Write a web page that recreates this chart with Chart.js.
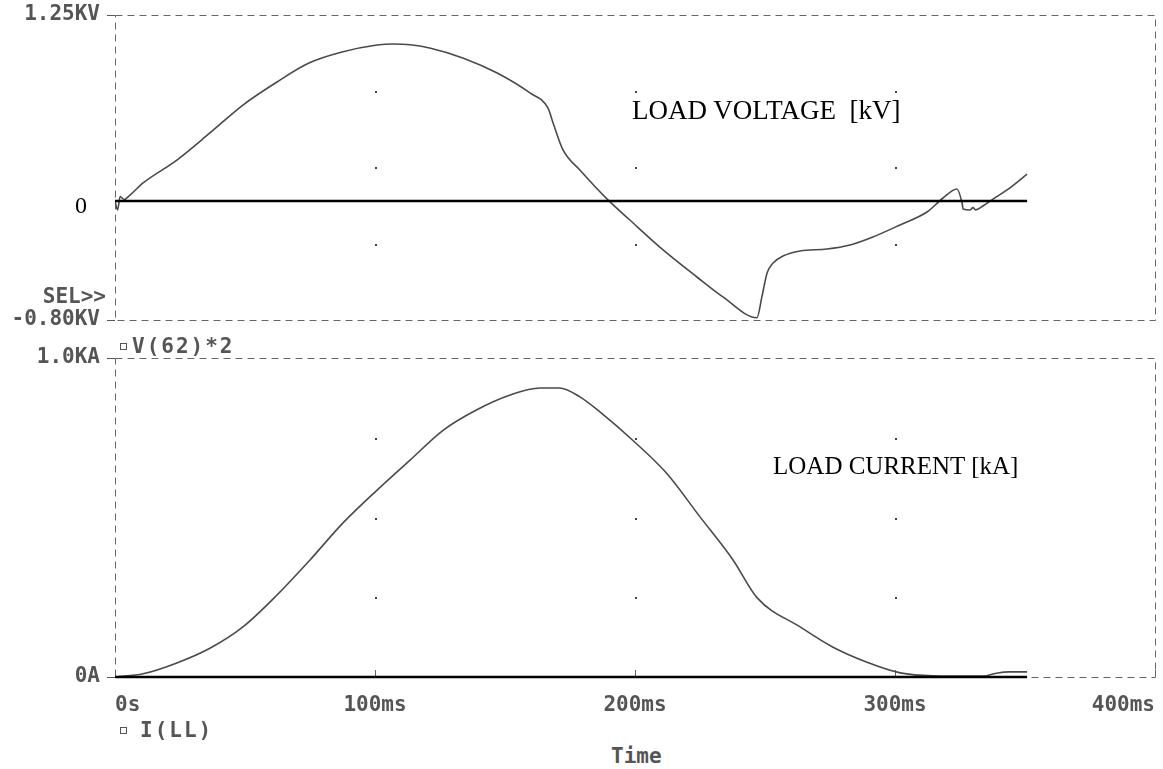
<!DOCTYPE html>
<html>
<head>
<meta charset="utf-8">
<script src="https://cdn.jsdelivr.net/npm/chart.js@4.4.1/dist/chart.umd.min.js"></script>
<style>
  body { margin: 0; background: #fff; width: 1163px; height: 769px; position: relative; overflow: hidden; }
  canvas { position: absolute; left: 0; }
  #topChart { top: 0; }
  #botChart { top: 340px; }
  .mono { position: absolute; font-family: "DejaVu Sans Mono", monospace; font-weight: bold; font-size: 21px; line-height: 21px; color: #555; white-space: pre; }
  .serif { position: absolute; font-family: "Liberation Serif", "Times New Roman", serif; color: #000; line-height: 1; white-space: pre; }
  .box { display: inline-block; width: 5px; height: 5px; border: 1.5px solid #555; vertical-align: 3px; }
</style>
</head>
<body>
<canvas id="topChart" width="1163" height="335"></canvas>
<canvas id="botChart" width="1163" height="380"></canvas>

<div class="serif" style="left:632px; top:97px; font-size:27px;">LOAD VOLTAGE  [kV]</div>
<div class="serif" style="left:773px; top:453px; font-size:25px;">LOAD CURRENT [kA]</div>
<div class="serif" style="left:75px; top:193px; font-size:24px;">0</div>
<div class="mono" style="left:0; width:106px; text-align:right; top:286px;">SEL&gt;&gt;</div>
<div class="mono" style="left:120px; top:336px;"><span class="box" style="margin-right:5px"></span><span style="letter-spacing:2px">V(62)*2</span></div>
<div class="mono" style="left:120px; top:720px;"><span class="box" style="margin-right:13px"></span><span style="letter-spacing:2px">I(LL)</span></div>
<div class="mono" style="left:611px; top:746px;">Time</div>

<script>
// ---- data ----
// load voltage V(62)*2, kV
const timeV = [0, 1, 2, 3.5, 5.8, 10.8, 23.8, 36.5, 49.2, 62.3, 74.6, 87.3, 100.8, 107, 113.5, 121, 134, 147,
  159.6, 166.5, 168.5, 172.3, 178.8, 189.6, 198, 210.8, 223.8, 233.8, 246.9, 248.8, 250.8, 253.1, 256.9,
  263.5, 273.8, 282.7, 291.5, 301.9, 312.3, 318.5, 323.8, 325.8, 326.2, 328.8, 330, 331, 333.8, 337.7,
  343.1, 350.8];
const voltage = [0, -0.06, 0.03, 0.01, 0.04, 0.121, 0.275, 0.457, 0.645, 0.8, 0.927, 1.001, 1.048, 1.055,
  1.05, 1.028, 0.96, 0.86, 0.726, 0.625, 0.524, 0.343, 0.208, 0.007, -0.128, -0.329, -0.511, -0.645, -0.785,
  -0.645, -0.484, -0.417, -0.37, -0.336, -0.323, -0.296, -0.242, -0.161, -0.074, 0.02, 0.08, -0.014, -0.054,
  -0.061, -0.045, -0.06, -0.034, 0.013, 0.074, 0.18];

// load current I(LL), kA
const timeI = [0, 10.8, 23.8, 36.5, 49.2, 62.3, 75, 87.7, 100.8, 113.5, 126.3, 139, 152, 163.5, 171, 178.8,
  186.5, 199, 212, 225, 237.7, 247, 263.5, 276, 289, 302, 314.6, 334, 339, 344, 350.8];
const current = [0, 0.01, 0.044, 0.09, 0.157, 0.257, 0.367, 0.483, 0.586, 0.68, 0.774, 0.837, 0.884, 0.906,
  0.906, 0.878, 0.831, 0.743, 0.64, 0.502, 0.367, 0.248, 0.157, 0.094, 0.047, 0.013, 0.004, 0.003, 0.012,
  0.016, 0.016];

// axes
const xTicks = [0, 100, 200, 300, 400];
const xLabels = ["0s", "100ms", "200ms", "300ms", "400ms"];
const yTopTicks = [-0.8, -0.2875, 0.225, 0.7375, 1.25];
const yTopLabels = ["-0.80KV", "", "", "", "1.25KV"];
const yBotTicks = [0, 0.25, 0.5, 0.75, 1.0];
const yBotLabels = ["0A", "", "", "", "1.0KA"];

const pts = (xs, ys) => xs.map((x, i) => ({ x: x, y: ys[i] }));
const tickFont = { family: "DejaVu Sans Mono", weight: "bold", size: 21 };
const yTickFont = { family: "DejaVu Sans Mono", weight: "bold", size: 21, lineHeight: 0.7 };

// dashed frame, grid dots and small inward ticks, PSpice style
const panelFrame = {
  id: "panelFrame",
  beforeDatasetsDraw(chart) {
    const { ctx, chartArea: a, scales: { x, y } } = chart;
    const yTicks = chart.options.scales.y.tickValues;
    ctx.save();
    ctx.fillStyle = "#444";
    xTicks.slice(1, -1).forEach(tx => {
      yTicks.slice(1, -1).forEach(ty => {
        ctx.fillRect(Math.round(x.getPixelForValue(tx)), Math.round(y.getPixelForValue(ty)), 2, 2);
      });
    });
    ctx.strokeStyle = "#666";
    ctx.lineWidth = 1;
    if (chart.options.showXTicks) {
      xTicks.forEach(tx => {
        const px = Math.round(x.getPixelForValue(tx)) + 0.5;
        ctx.beginPath();
        ctx.moveTo(px, a.bottom);
        ctx.lineTo(px, a.bottom - 7);
        ctx.stroke();
      });
    }
    ctx.setLineDash([7, 5]);
    ctx.strokeRect(Math.round(a.left) + 0.5, Math.round(a.top) + 0.5, Math.round(a.width), Math.round(a.height));
    ctx.restore();
  }
};

function makeScales(yTicks, yLabels, yMin, yMax, showX, xHeight) {
  return {
    x: {
      type: "linear", min: 0, max: 400,
      afterBuildTicks: s => { s.ticks = xTicks.map(v => ({ value: v })); },
      afterFit: s => { s.height = xHeight; },
      grid: { display: false, drawTicks: true, tickLength: 8 },
      border: { display: false },
      ticks: {
        display: showX, autoSkip: false, maxRotation: 0, align: "inner",
        padding: 8, color: "#555", font: tickFont,
        callback: (v, i) => xLabels[i]
      }
    },
    y: {
      min: yMin, max: yMax, tickValues: yTicks,
      afterBuildTicks: s => { s.ticks = yTicks.map(v => ({ value: v })); },
      afterFit: s => { s.width = 115; },
      grid: {
        drawOnChartArea: false, drawTicks: true, tickLength: 8,
        color: c => (c.index === 0 || c.index === yTicks.length - 1) ? "#555" : "rgba(0,0,0,0)"
      },
      border: { display: false },
      ticks: {
        autoSkip: false, padding: 7, color: "#555", font: yTickFont,
        callback: (v, i) => yLabels[i]
      }
    }
  };
}

const common = {
  responsive: false,
  animation: false,
  plugins: { legend: { display: false }, tooltip: { enabled: false } }
};

const curveStyle = { borderColor: "#4a4a4a", borderWidth: 1.6, pointRadius: 0, cubicInterpolationMode: "monotone" };
const zeroStyle = { borderColor: "#000", borderWidth: 2.5, pointRadius: 0, clip: 4 };

new Chart(document.getElementById("topChart"), {
  type: "line",
  data: {
    datasets: [
      Object.assign({ data: pts([0, timeV[timeV.length - 1]], [0, 0]) }, zeroStyle),
      Object.assign({ data: pts(timeV, voltage) }, curveStyle)
    ]
  },
  options: Object.assign({}, common, {
    layout: { padding: { top: 15, right: 8, left: 0, bottom: 0 } },
    scales: makeScales(yTopTicks, yTopLabels, -0.8, 1.25, false, 15),
    showXTicks: false
  }),
  plugins: [panelFrame]
});

new Chart(document.getElementById("botChart"), {
  type: "line",
  data: {
    datasets: [
      Object.assign({ data: pts([0, timeI[timeI.length - 1]], [0, 0]) }, zeroStyle),
      Object.assign({ data: pts(timeI, current) }, curveStyle)
    ]
  },
  options: Object.assign({}, common, {
    layout: { padding: { top: 18, right: 8, left: 0, bottom: 0 } },
    scales: makeScales(yBotTicks, yBotLabels, 0, 1.0, true, 43),
    showXTicks: true
  }),
  plugins: [panelFrame]
});
</script>
</body>
</html>
